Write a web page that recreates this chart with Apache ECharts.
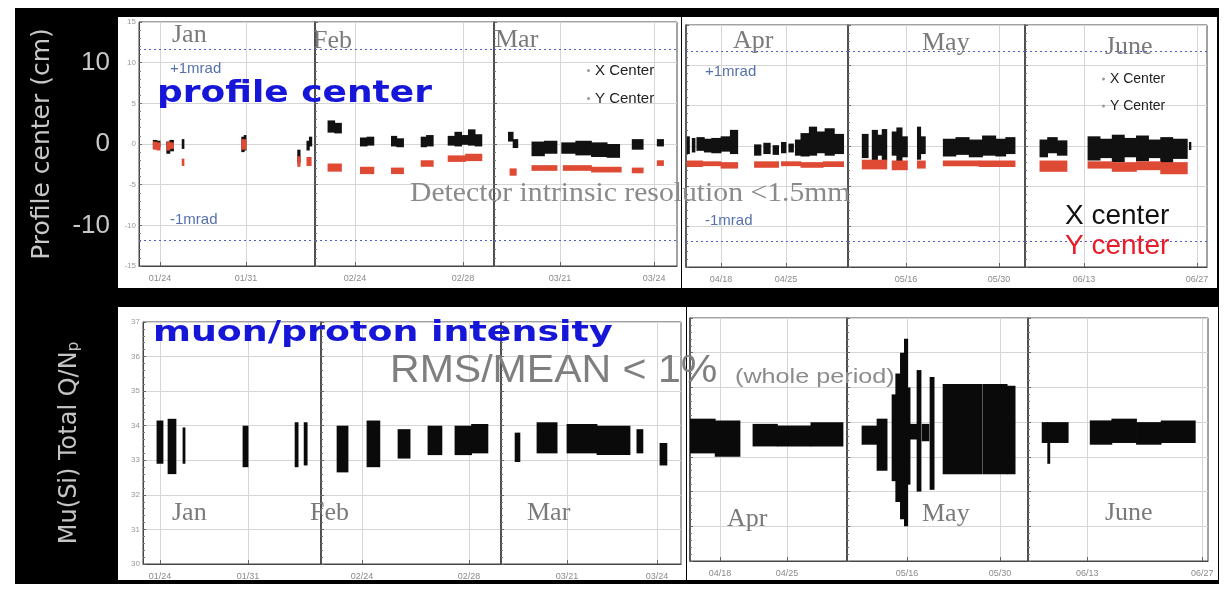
<!DOCTYPE html>
<html><head><meta charset="utf-8">
<script src="https://cdn.jsdelivr.net/npm/echarts@6/dist/echarts.min.js"></script>
<style>html,body{margin:0;padding:0;background:#fff;}#c{width:1228px;height:589px;}</style>
</head><body><div id="c"></div>
<script>
// ---------------- DATA ----------------
const months = ['Jan', 'Feb', 'Mar', 'Apr', 'May', 'June'];
// day-of-year of the dated ticks and their labels
const tickDays = [[24, 31], [55, 59], [80, 83], [108, 115], [136, 150], [164, 178]];
const tickLabels = [['01/24', '01/31'], ['02/24', '02/28'], ['03/21', '03/24'], ['04/18', '04/25'], ['05/16', '05/30'], ['06/13', '06/27']];
// visible day range of each monthly panel
const topDayRange = [[22.29, 36.61], [53.52, 60.15], [77.89, 83.73], [104.23, 121.67], [127.26, 153.9], [156.7, 179.24]];
const bottomDayRange = [[22.65, 36.8], [53.47, 60.2], [77.8, 83.8], [104.87, 121.27], [126.96, 154.2], [156.8, 178.7]];
const centerRange = [-15, 15];
const intensityRange = [30, 37];
const bigCenterLabels = [10, 0, -10];
const mradValues = [11.7, -11.8];
const mradLabels = ['+1mrad', '-1mrad'];

// [dayStart, dayEnd, low, high]  (cm)
const xCenter = [
  [[23.45,23.75,-0.6,0.5],[23.75,24.0,-0.4,0.4],[24.55,24.8,-1.2,0.3],[24.8,25.1,-0.9,0.5],[25.8,25.95,-0.6,0.6],[30.65,30.85,-1.0,0.9],[30.85,31.0,-0.8,1.1],[35.2,35.4,-2.3,-0.7],[35.95,36.15,-0.8,0.4],[36.15,36.35,-0.3,0.9]],
  [[54.0,54.25,1.4,2.9],[54.25,54.5,1.3,2.6],[55.2,55.45,-0.3,0.8],[55.45,55.7,-0.2,0.9],[56.35,56.55,-0.3,1.0],[56.55,56.8,-0.4,0.7],[57.45,57.65,-0.4,0.9],[57.65,57.9,-0.3,1.1],[58.45,58.7,-0.2,1.0],[58.7,58.95,-0.3,1.5],[58.95,59.2,-0.1,1.1],[59.2,59.45,-0.2,1.8],[59.45,59.7,-0.3,1.2]],
  [[78.35,78.5,0.3,1.5],[78.5,78.65,-0.5,0.6],[79.1,79.5,-1.5,0.3],[79.5,79.9,-1.2,0.4],[80.05,80.5,-1.2,0.2],[80.5,81.0,-1.4,0.4],[81.0,81.5,-1.6,0.2],[81.5,81.9,-1.7,0.0],[82.3,82.65,-0.7,0.6],[83.1,83.3,-0.3,0.6]],
  [[104.35,104.6,-1.0,1.2],[104.9,105.2,-0.8,1.0],[105.4,106.2,-0.6,1.1],[106.2,107.0,-0.8,0.9],[107.0,108.0,-0.9,1.0],[108.0,109.0,-0.7,1.2],[109.0,109.8,-1.0,2.0],[111.6,112.3,-1.2,0.2],[112.6,113.3,-1.0,0.4],[113.6,114.2,-1.1,0.1],[114.5,115.0,-0.9,0.5],[115.3,115.8,-0.8,0.3],[116.0,116.6,-1.2,0.8],[116.6,117.5,-1.3,1.6],[117.5,118.3,-1.2,2.4],[118.3,119.2,-0.9,1.8],[119.2,120.2,-1.2,2.2],[120.2,121.2,-1.0,1.5]],
  [[129.4,130.3,-1.5,1.5],[130.9,131.7,-2.0,2.0],[131.7,132.4,-1.2,1.4],[132.4,133.1,-1.8,2.1],[133.9,134.6,-1.2,1.8],[134.6,135.4,-2.1,2.3],[135.4,136.2,-1.4,1.2],[137.7,138.2,-1.7,2.4],[138.2,138.9,-1.0,1.2],[141.6,143.5,-1.3,0.9],[143.5,145.5,-1.1,1.1],[145.5,147.5,-1.4,0.8],[147.5,149.5,-1.2,1.3],[149.5,151.0,-1.3,0.9],[151.0,152.4,-1.0,1.1]],
  [[158.55,159.5,-1.4,0.8],[159.5,160.7,-0.9,1.1],[160.7,161.9,-1.2,0.7],[164.5,166.0,-1.8,1.2],[166.0,167.5,-1.5,0.9],[167.5,169.0,-2.0,1.4],[169.0,170.5,-1.4,1.0],[170.5,172.0,-1.9,1.3],[172.0,173.5,-1.5,0.8],[173.5,175.0,-2.1,1.1],[175.0,176.8,-1.6,0.9],[177.05,177.25,-0.5,0.5]]
];
const yCenter = [
  [[23.45,23.75,-0.7,0.3],[23.75,24.0,-0.8,0.2],[24.55,24.8,-0.8,0.3],[24.8,25.1,-0.6,0.2],[25.8,25.95,-2.7,-1.8],[30.65,31.0,-0.7,0.6],[35.2,35.4,-2.8,-1.5],[35.95,36.3,-2.7,-1.6]],
  [[54.0,54.5,-3.4,-2.4],[55.2,55.7,-3.7,-2.8],[56.35,56.8,-3.7,-2.9],[57.45,57.9,-2.8,-2.0],[58.45,59.1,-2.2,-1.4],[59.1,59.7,-2.1,-1.2]],
  [[78.4,78.6,-3.9,-3.0],[79.1,79.9,-3.3,-2.6],[80.1,81.0,-3.3,-2.6],[81.0,81.95,-3.5,-2.8],[82.3,82.65,-3.6,-2.9],[83.1,83.3,-2.7,-2.0]],
  [[104.35,106.0,-2.6,-1.8],[106.0,108.0,-2.5,-1.9],[108.0,109.8,-2.8,-2.0],[111.6,114.2,-2.7,-1.9],[114.5,116.6,-2.5,-1.9],[116.6,119.0,-2.7,-2.0],[119.0,121.2,-2.6,-1.9]],
  [[129.4,133.1,-2.9,-1.7],[133.9,136.2,-3.0,-1.8],[137.7,138.9,-2.8,-1.8],[141.6,147.0,-2.5,-1.8],[147.0,152.4,-2.6,-1.8]],
  [[158.55,161.9,-3.2,-1.8],[164.5,167.5,-2.8,-1.9],[167.5,170.5,-3.2,-2.0],[170.5,173.5,-3.0,-1.9],[173.5,176.8,-3.5,-2.0]]
];
// Mu(Si) Total Q/Np : [dayStart, dayEnd, low, high]
const intensity = [
  [[23.76,24.24,32.9,34.15],[24.64,25.27,32.6,34.2],[25.83,25.99,32.9,33.95],[30.6,31.0,32.8,34.0],[34.74,34.98,32.8,34.1],[35.46,35.7,32.85,34.1]],
  [[54.07,54.48,32.65,34.0],[55.19,55.67,32.8,34.15],[56.35,56.8,33.05,33.9],[57.47,57.99,33.15,34.0],[58.48,59.1,33.15,34.0],[59.1,59.71,33.2,34.05]],
  [[78.27,78.43,32.95,33.8],[79.0,79.67,33.2,34.1],[80.0,81.0,33.2,34.05],[81.0,82.1,33.15,34.0],[82.33,82.53,33.2,33.9],[83.1,83.33,32.85,33.5]],
  [[104.87,107.5,33.1,34.1],[107.5,110.09,33.0,34.05],[111.45,114.0,33.3,33.95],[114.0,117.5,33.3,33.9],[117.5,120.85,33.3,34.0]],
  [[129.22,131.48,33.35,33.9],[131.48,132.99,32.6,34.1],[133.74,134.3,32.3,34.8],[134.3,135.0,31.7,35.4],[135.0,135.6,31.2,36.0],[135.6,136.1,31.0,36.4],[136.1,136.45,32.2,35.0],[136.45,137.5,33.5,33.95],[137.5,138.1,32.0,35.5],[138.26,139.3,33.45,33.95],[139.46,140.07,32.05,35.3],[141.42,147.3,32.5,35.1],[147.45,151.06,32.5,35.1],[151.06,152.26,32.5,35.05]],
  [[158.52,159.2,33.4,34.0],[159.2,159.45,32.8,34.0],[159.45,161.69,33.4,34.0],[164.37,167.0,33.35,34.05],[167.0,170.0,33.4,34.1],[170.0,173.0,33.35,34.0],[173.0,177.15,33.4,34.05]]
];

// ---------------- LAYOUT ----------------
const topBoxes = [[139,315,22,266],[315,494,22,266],[494,677,22,266],[686,848,25,267],[848,1025,25,267],[1025,1207,25,267]];
const botBoxes = [[143,321,322,564],[321,501,322,564],[501,681,322,564],[690,847,318,561],[847,1028,318,561],[1028,1208,318,561]];
const topMonthPos = [[172,35],[313,41],[495,40],[733,41],[922,43],[1105,47]];
const botMonthPos = [[172,513],[310,513],[527,513],[727,519],[922,514],[1105,513]];

const GRID_LINE = '#d6d6d6', FRAME = '#454545', TICK_TXT = '#8a8a8a';

function band(params, api) {
  const a = api.coord([api.value(0), api.value(3)]);
  const b = api.coord([api.value(1), api.value(2)]);
  const x0 = Math.min(a[0], b[0]), y0 = Math.min(a[1], b[1]);
  return {
    type: 'rect',
    shape: { x: x0 - 0.4, y: y0,
             width: Math.max(Math.abs(b[0] - a[0]) + 0.8, 2), height: Math.max(Math.abs(b[1] - a[1]), 2) },
    style: { fill: api.visual('color') }
  };
}

const grid = [], xAxis = [], yAxis = [], series = [];

function addPanel(box, range, m, yr, yInt, first) {
  const gi = grid.length;
  grid.push({ left: box[0], top: box[2], width: box[1] - box[0], height: box[3] - box[2],
              show: true, borderColor: FRAME, borderWidth: 1, backgroundColor: 'transparent' });
  const ticks = tickDays[m], labels = tickLabels[m];
  xAxis.push({
    type: 'value', gridIndex: gi, min: range[0], max: range[1],
    axisLine: { show: true, onZero: false, lineStyle: { color: FRAME } },
    axisTick: { show: true, inside: true, length: 4, customValues: ticks, lineStyle: { color: '#666' } },
    axisLabel: { show: true, customValues: ticks, fontSize: 9, color: TICK_TXT, margin: 8,
                 fontFamily: 'Liberation Sans',
                 formatter: v => { const i = ticks.indexOf(v); return i >= 0 ? labels[i] : ''; } },
    splitLine: { show: true, lineStyle: { color: GRID_LINE } }
  });
  yAxis.push({
    type: 'value', gridIndex: gi, position: 'left', min: yr[0], max: yr[1], interval: yInt,
    axisLine: { show: true, lineStyle: { color: FRAME, width: first ? 1 : 1.5 } },
    axisTick: { show: true, inside: true, length: 3, lineStyle: { color: '#666' } },
    minorTick: { show: true, splitNumber: 5, length: 2, lineStyle: { color: '#777' } },
    axisLabel: { show: first, fontSize: 8, color: '#999', margin: 3, fontFamily: 'Liberation Sans' },
    splitLine: { show: true, lineStyle: { color: GRID_LINE } }
  });
  return gi;
}

for (let m = 0; m < 6; m++) {
  const gi = addPanel(topBoxes[m], topDayRange[m], m, centerRange, 5, m === 0);
  const labelShow = (m === 0 || m === 3);
  const labOff = m === 0 ? 31 : 19;
  series.push({
    type: 'custom', name: 'X Center', xAxisIndex: gi, yAxisIndex: gi, clip: true,
    encode: { x: [0, 1], y: [2, 3] }, renderItem: band, data: xCenter[m],
    itemStyle: { color: '#111' },
    markLine: {
      silent: true, symbol: 'none', animation: false,
      lineStyle: { type: [2, 3], color: '#5060c8', width: 1 },
      data: mradValues.map((v, i) => ({
        yAxis: v,
        label: { show: labelShow, formatter: mradLabels[i],
                 position: i === 0 ? 'insideStartBottom' : 'insideStartTop',
                 distance: [labOff, 13], fontSize: 15, color: '#5571ad', fontFamily: 'Liberation Sans' }
      }))
    }
  });
  series.push({
    type: 'custom', name: 'Y Center', xAxisIndex: gi, yAxisIndex: gi, clip: true,
    encode: { x: [0, 1], y: [2, 3] }, renderItem: band, data: yCenter[m],
    itemStyle: { color: '#df4a35' }
  });
}
for (let m = 0; m < 6; m++) {
  const gi = addPanel(botBoxes[m], bottomDayRange[m], m, intensityRange, 1, m === 0);
  series.push({
    type: 'custom', name: 'Mu(Si) Total Q/Np', xAxisIndex: gi, yAxisIndex: gi, clip: true,
    encode: { x: [0, 1], y: [2, 3] }, renderItem: band, data: intensity[m],
    itemStyle: { color: '#0a0a0a' }
  });
}
// axis names
yAxis[6].name = '{a|Mu(Si) Total Q/N}{s|p}';
yAxis[6].nameLocation = 'middle';
yAxis[6].nameGap = 61;
yAxis[6].nameTextStyle = { rich: {
  a: { fontSize: 24, color: '#c4c4c4', fontFamily: 'DejaVu Sans' },
  s: { fontSize: 15, color: '#c4c4c4', fontFamily: 'DejaVu Sans', verticalAlign: 'bottom', padding: [8, 0, 0, 0] } } };
// big outer labels of the profile-center panel
yAxis.push({
  type: 'value', gridIndex: 0, position: 'left', offset: 0,
  min: centerRange[0], max: centerRange[1], interval: 5,
  name: 'Profile center (cm)', nameLocation: 'middle', nameGap: 84,
  nameTextStyle: { fontSize: 25, color: '#c8c8c8', fontFamily: 'DejaVu Sans' },
  axisLine: { show: false }, axisTick: { show: false }, splitLine: { show: false }, minorTick: { show: false },
  axisLabel: { margin: 29, fontSize: 26, color: '#c8c8c8', fontFamily: 'Liberation Sans',
               formatter: v => bigCenterLabels.includes(v) ? String(v) : '' }
});

const graphics = [
  { type: 'rect', z: -30, shape: { x: 15, y: 8, width: 1204, height: 576 }, style: { fill: '#000' } },
  { type: 'rect', z: -20, shape: { x: 118, y: 17, width: 563, height: 271 }, style: { fill: '#fff' } },
  { type: 'rect', z: -20, shape: { x: 682, y: 17, width: 535, height: 271 }, style: { fill: '#fff' } },
  { type: 'rect', z: -20, shape: { x: 118, y: 307, width: 568, height: 273 }, style: { fill: '#fff' } },
  { type: 'rect', z: -20, shape: { x: 687, y: 307, width: 531, height: 273 }, style: { fill: '#fff' } }
];
months.forEach((mn, i) => {
  graphics.push({ type: 'text', z: 50, x: topMonthPos[i][0], y: topMonthPos[i][1],
    style: { text: mn, fill: '#7a7a7a', font: '26px "Liberation Serif"', textVerticalAlign: 'middle' } });
  graphics.push({ type: 'text', z: 50, x: botMonthPos[i][0], y: botMonthPos[i][1],
    style: { text: mn, fill: '#7a7a7a', font: '26px "Liberation Serif"', textVerticalAlign: 'middle' } });
});
graphics.push(
  { type: 'text', z: 60, x: 157, y: 94, scaleX: 1.2,
    style: { text: 'profile center', fill: '#1616d8', font: 'bold 30px "DejaVu Sans"', textVerticalAlign: 'middle' } },
  { type: 'text', z: 60, x: 153, y: 334, scaleX: 1.3,
    style: { text: 'muon/proton intensity', fill: '#1616d8', font: 'bold 28px "DejaVu Sans"', textVerticalAlign: 'middle' } },
  { type: 'text', z: 55, x: 390, y: 372, scaleX: 1.08,
    style: { text: 'RMS/MEAN < 1%', fill: '#7f7f7f', font: '38px "Liberation Sans"', textVerticalAlign: 'middle' } },
  { type: 'text', z: 55, x: 735, y: 377, scaleX: 1.2,
    style: { text: '(whole period)', fill: '#8c8c8c', font: '21px "Liberation Sans"', textVerticalAlign: 'middle' } },
  { type: 'text', z: 55, x: 410, y: 194, scaleX: 1.06,
    style: { text: 'Detector intrinsic resolution <1.5mm', fill: '#8a8a8a', font: '28px "Liberation Serif"', textVerticalAlign: 'middle' } },
  { type: 'text', z: 60, x: 1065, y: 216,
    style: { text: 'X center', fill: '#111', font: '28px "Liberation Sans"', textVerticalAlign: 'middle' } },
  { type: 'text', z: 60, x: 1065, y: 246,
    style: { text: 'Y center', fill: '#ea1c2a', font: '28px "Liberation Sans"', textVerticalAlign: 'middle' } }
);

const legendBase = {
  data: ['X Center', 'Y Center'], orient: 'vertical', icon: 'circle', itemWidth: 3, itemHeight: 3,
  selectedMode: false, itemStyle: { color: '#9a9a9a' }
};
const option = {
  animation: false,
  backgroundColor: '#fff',
  grid, xAxis, yAxis, series,
  legend: [
    Object.assign({}, legendBase, { left: 582, top: 58, itemGap: 13, textStyle: { fontSize: 15, color: '#222', fontFamily: 'Liberation Sans' } }),
    Object.assign({}, legendBase, { left: 1097, top: 67, itemGap: 13, textStyle: { fontSize: 14, color: '#222', fontFamily: 'Liberation Sans' } })
  ],
  graphic: { elements: graphics }
};
const chart = echarts.init(document.getElementById('c'));
chart.setOption(option);
</script>
</body></html>
